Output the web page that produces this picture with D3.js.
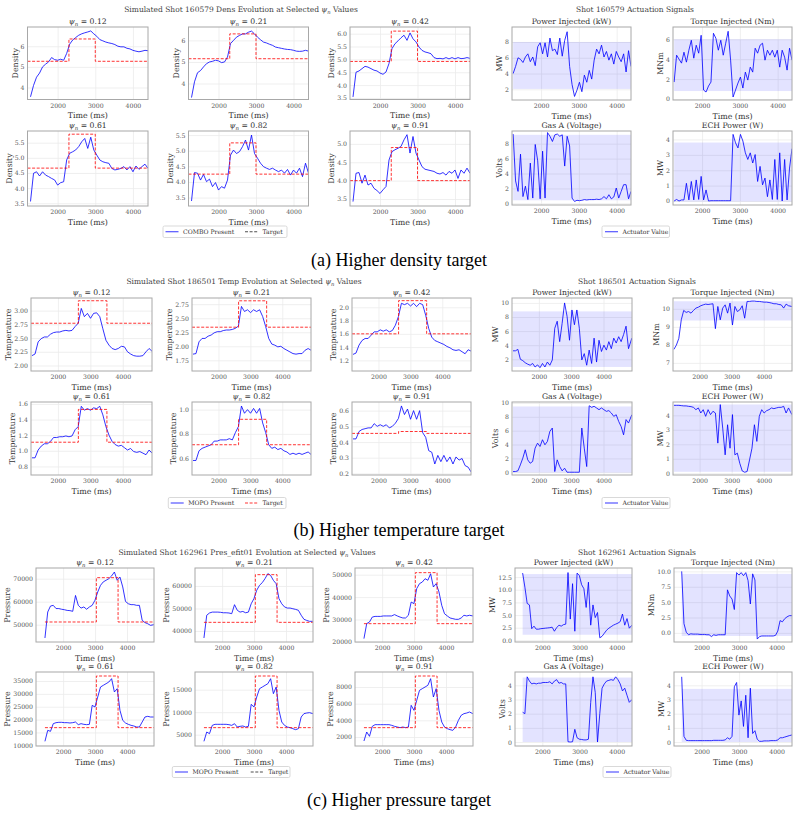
<!DOCTYPE html>
<html>
<head>
<meta charset="utf-8">
<script src="https://cdn.jsdelivr.net/npm/d3@7"></script>
<style>
  body { margin: 0; background: #fff; }
  svg { display: block; }
</style>
</head>
<body>
<div id="chart"></div>
<script>
// ---- data -------------------------------------------------------------
var psiVals = ["0.12", "0.21", "0.42", "0.61", "0.82", "0.91"];
var timeTicks = [2000, 3000, 4000];
var actTitles = ["Power Injected (kW)", "Torque Injected (Nm)", "Gas A (Voltage)", "ECH Power (W)"];
var actUnits = ["MW", "MNm", "Volts", "MW"];

// (a) density, shot 160579
var tA = [1280,1360,1440,1520,1600,1680,1760,1840,1920,2000,2080,2160,2240,2320,2400,2480,2560,2640,2720,2800,
          2880,2960,3040,3120,3200,3280,3360,3440,3520,3600,3680,3760,3840,3920,4000,4080,4160,4240,4320,4400];
var aDens = [
  [3.55,4.1,4.5,4.7,5.0,5.13,5.24,5.45,5.35,5.32,5.37,5.32,5.65,6.1,6.3,6.42,6.53,6.6,6.65,6.69,6.74,6.6,6.48,6.32,6.26,6.2,6.16,6.13,6.08,6.0,5.97,5.97,5.9,5.87,5.8,5.76,5.73,5.76,5.8,5.78],
  [3.35,4.08,4.5,4.6,4.77,4.92,5.0,5.03,5.08,5.05,4.97,5.0,5.23,5.85,6.0,6.15,6.23,6.3,6.3,6.38,6.43,6.3,6.15,6.03,5.92,5.88,5.82,5.77,5.69,5.66,5.63,5.6,5.58,5.57,5.54,5.5,5.49,5.5,5.54,5.5],
  [3.54,4.5,4.55,4.64,4.73,4.7,4.64,4.58,4.55,4.47,4.42,4.51,4.84,5.42,5.61,5.72,5.84,5.94,5.74,6.03,5.8,5.68,5.48,5.35,5.29,5.26,5.22,5.07,5.03,5.04,5.02,5.07,5.02,5.07,5.02,5.07,5.03,5.04,5.07,5.04],
  [3.56,4.49,4.54,4.4,4.54,4.43,4.38,4.32,4.27,4.1,4.18,4.21,4.93,5.15,5.2,5.26,5.37,5.53,5.64,5.31,5.68,5.26,5.09,4.93,4.87,4.84,4.82,4.65,4.6,4.62,4.65,4.71,4.6,4.71,4.54,4.73,4.62,4.71,4.79,4.65],
  [3.39,4.3,4.28,4.06,4.24,4.01,4.09,3.85,3.98,3.74,3.85,3.8,4.06,4.86,5.02,4.91,4.97,5.13,5.34,5.02,5.5,4.91,4.76,4.6,4.49,4.44,4.4,4.44,4.38,4.33,4.38,4.28,4.4,4.22,4.38,4.28,4.44,4.17,4.6,4.28],
  [3.43,4.2,4.22,3.93,4.15,3.88,3.93,3.79,3.73,3.65,3.75,3.84,4.56,4.79,4.84,4.88,4.93,5.11,5.25,4.75,5.2,4.75,4.56,4.38,4.31,4.29,4.27,4.25,4.2,4.18,4.22,4.15,4.25,4.2,4.29,4.06,4.29,4.2,4.34,4.2]
];
var aTargetLow = [5.27, 5.15, 4.92, 4.66, 4.25, 4.0];
var aTargetHigh = [6.35, 6.3, 6.1, 5.78, 5.25, 4.9];
var aTargetTimes = [1200, 2300, 3000, 4400];
var aYDomains = [[3.42,6.93],[3.26,6.62],[3.44,6.26],[3.41,5.885],[3.23,5.63],[3.31,5.35]];
var aYTicks = [[4,5,6],[4,5,6],[3.5,4,4.5,5,5.5,6],[3.5,4,4.5,5,5.5],[3.5,4,4.5,5,5.5],[3.5,4,4.5,5]];
var aYFmts = ["d", "d", ".1f", ".1f", ".1f", ".1f"];

var tAAct = [1260,1325,1390,1455,1520,1585,1650,1715,1780,1845,1910,1975,2040,2105,2170,2235,2300,2365,2430,2495,2560,2625,2690,2755,2820,
             2885,2950,3015,3080,3145,3210,3275,3340,3405,3470,3535,3600,3665,3730,3795,3860,3925,3990,4055,4120,4185,4250,4315,4380];
var aPower = [4.0,4.9,6.0,5.8,5.4,6.1,6.5,5.5,6.1,5.0,7.4,7.9,6.5,7.9,6.1,8.5,6.9,7.1,6.4,8.5,6.2,8.2,9.3,4.9,2.6,1.1,1.9,2.9,1.7,3.8,2.9,4.4,3.3,5.7,7.1,6.5,7.6,6.1,6.8,5.7,6.5,5.2,6.8,6.1,5.5,6.5,4.2,6.9,4.9];
var aTorque = [1.7,4.4,4.0,3.6,4.7,3.7,4.9,5.9,4.1,5.4,4.6,6.4,0.9,0.7,1.3,1.7,6.6,6.1,4.9,5.9,4.4,5.6,6.8,3.9,0.2,0.9,1.6,2.2,1.1,2.7,1.9,3.2,2.7,5.1,4.6,5.4,5.6,3.9,4.9,4.4,4.9,4.2,4.9,3.2,4.9,4.2,2.9,5.1,3.9];
var aGas = [9.3,3.0,1.6,6.6,0.9,2.3,0.5,5.4,0.7,7.9,5.7,0.6,7.0,0.7,9.5,9.0,8.3,9.2,9.3,9.0,9.2,5.0,9.0,7.7,0.7,0.25,0.4,0.35,0.4,0.5,0.45,0.5,0.5,0.5,0.55,0.5,0.6,0.9,0.6,1.15,0.6,0.85,2.05,0.7,1.6,2.5,2.5,0.6,1.6];
var aEch = [0.0,0.1,0.0,0.07,0.07,1.15,0.07,1.27,0.07,1.37,0.1,1.6,0.07,0.72,0.0,0.02,0.02,0.02,0.02,0.02,0.02,0.02,0.02,0.02,4.33,3.78,3.45,4.33,3.9,3.13,2.7,3.13,2.47,3.02,1.27,2.25,1.05,1.49,0.28,1.37,0.1,2.7,0.1,3.13,0.0,2.7,0.07,2.14,3.4];
var aActYDomains = [[0.65,9.9],[-0.1,7.23],[-0.23,9.71],[-0.26,4.55]];
var aActYTicks = [[2,4,6,8],[0,2,4,6],[0,2,4,6,8],[0,1,2,3,4]];
var aActBands = [[2.05,8.0],[0.8,6.0],[0.4,9.2],[-0.03,3.8]];

// (b) temperature, shot 186501
var tB = [1200,1295,1390,1485,1580,1675,1770,1865,1960,2055,2150,2245,2340,2435,2530,2625,2720,2815,2910,3005,
          3100,3195,3290,3385,3480,3575,3670,3765,3860,3955,4050,4145,4240,4335,4430,4525,4620,4715,4810,4900];
var bTemp = [
  [2.18,2.21,2.43,2.49,2.52,2.52,2.57,2.6,2.61,2.61,2.63,2.64,2.63,2.64,2.71,2.77,3.04,2.89,2.95,2.86,2.95,2.96,2.89,2.67,2.46,2.37,2.31,2.29,2.31,2.35,2.34,2.25,2.21,2.18,2.17,2.17,2.18,2.25,2.31,2.26],
  [1.86,1.87,2.08,2.14,2.14,2.18,2.2,2.24,2.26,2.26,2.28,2.29,2.29,2.3,2.32,2.36,2.71,2.62,2.65,2.6,2.65,2.62,2.65,2.53,2.35,2.14,2.04,2.02,1.99,2.0,1.96,1.93,1.9,1.87,1.86,1.87,1.87,1.93,1.96,1.93],
  [1.29,1.31,1.43,1.5,1.53,1.53,1.58,1.63,1.63,1.66,1.64,1.66,1.63,1.65,1.73,1.86,2.06,2.04,2.06,2.02,2.06,2.01,2.06,2.04,1.88,1.68,1.55,1.5,1.48,1.46,1.44,1.41,1.39,1.36,1.35,1.36,1.33,1.3,1.36,1.34],
  [0.91,0.91,1.01,1.06,1.09,1.09,1.12,1.17,1.17,1.18,1.18,1.19,1.18,1.19,1.27,1.31,1.57,1.52,1.54,1.52,1.55,1.54,1.57,1.46,1.31,1.2,1.12,1.08,1.06,1.07,1.04,1.01,1.03,0.99,0.98,0.99,0.97,0.95,1.01,0.97],
  [0.58,0.58,0.66,0.68,0.69,0.7,0.71,0.74,0.74,0.75,0.75,0.75,0.76,0.75,0.81,0.86,1.03,0.97,1.0,0.97,1.01,0.97,1.01,0.89,0.81,0.71,0.68,0.69,0.67,0.68,0.66,0.65,0.63,0.64,0.63,0.64,0.63,0.64,0.65,0.63],
  [0.42,0.42,0.467,0.48,0.485,0.49,0.49,0.517,0.5,0.51,0.5,0.51,0.49,0.5,0.52,0.55,0.63,0.575,0.61,0.545,0.6,0.545,0.6,0.46,0.43,0.345,0.335,0.26,0.315,0.275,0.315,0.275,0.305,0.26,0.305,0.285,0.295,0.25,0.24,0.21]
];
var bTargetLow = [2.77, 2.34, 1.6, 1.11, 0.71, 0.455];
var bTargetHigh = [3.18, 2.81, 2.1, 1.53, 0.92, 0.467];
var bTargetTimes = [1170, 2630, 3510, 4900];
var bYDomains = [[1.9,3.23],[1.56,2.86],[1.04,2.14],[0.69,1.625],[0.46,1.063],[0.19,0.655]];
var bYTicks = [[2,2.25,2.5,2.75,3],[1.75,2,2.25,2.5,2.75],[1.2,1.4,1.6,1.8,2.0],[0.8,1.0,1.2,1.4,1.6],[0.6,0.8,1.0],[0.2,0.3,0.4,0.5,0.6]];
var bYFmts = [".2f", ".2f", ".1f", ".1f", ".1f", ".1f"];

var tBAct = [1200,1276,1352,1428,1504,1580,1656,1732,1808,1884,1960,2036,2112,2188,2264,2340,2416,2492,2568,2644,2720,2796,2872,2948,3024,
             3100,3176,3252,3328,3404,3480,3556,3632,3708,3784,3860,3936,4012,4088,4164,4240,4316,4392,4468,4544,4620,4696,4772,4875];
var bPower = [3.2,3.2,3.4,2.0,1.8,1.5,1.3,1.15,1.4,0.9,1.2,0.8,1.4,0.9,1.6,1.15,1.9,6.4,7.4,4.5,7.1,10.0,8.1,4.7,9.0,6.9,9.0,6.4,1.9,2.8,1.15,3.3,1.4,5.0,1.6,4.7,3.1,4.0,3.3,4.5,3.5,5.0,4.3,5.2,4.5,5.5,6.7,3.5,5.0];
var bTorque = [7.75,7.99,8.36,9.39,9.91,9.8,9.85,9.76,9.91,10.04,10.09,10.17,10.22,10.26,10.24,10.26,10.28,8.9,10.13,9.39,10.04,10.22,9.76,10.32,9.1,10.13,9.85,9.94,10.17,9.48,10.41,10.41,10.43,10.43,10.41,10.41,10.39,10.37,10.37,10.35,10.32,10.28,10.28,10.24,10.22,10.04,10.26,10.17,10.13];
var bGas = [0.1,0.1,0.2,1.06,2.03,3.24,1.79,1.3,1.55,3.48,4.2,3.72,4.69,3.96,4.44,5.89,6.38,0.1,1.79,0.82,0.2,0.58,0.0,0.0,0.0,0.0,0.0,0.0,6.38,3.48,0.82,9.6,9.37,9.52,9.28,9.03,9.28,9.03,8.79,8.9,8.55,8.07,8.3,7.34,6.6,5.4,7.6,7.1,8.3];
var bEch = [4.69,4.69,4.69,4.67,4.65,4.65,4.62,4.6,4.55,4.39,4.51,4.16,4.39,3.93,4.39,4.05,4.28,4.16,2.08,4.74,3.12,1.27,3.35,1.73,4.05,1.27,1.39,0.69,0.16,0.07,0.12,0.92,1.73,3.35,2.2,3.93,4.39,4.16,4.32,4.39,4.51,4.46,4.51,4.55,4.55,4.62,4.16,4.51,4.05];
var bActYDomains = [[0.33,10.7],[6.55,10.6],[-0.4,10.14],[-0.12,4.92]];
var bActYTicks = [[2,4,6,8,10],[7,8,9,10],[0,2,4,6,8,10],[0,1,2,3,4]];
var bActBands = [[0.9,8.8],[9.35,10.42],[-0.05,9.5],[0.1,4.75]];

// (c) pressure, shot 162961
var tC = [1430,1517,1604,1691,1778,1865,1952,2039,2126,2213,2300,2387,2474,2561,2648,2735,2822,2909,2996,3083,
          3170,3257,3344,3431,3518,3605,3692,3779,3866,3953,4040,4127,4214,4301,4388,4475,4562,4649,4736,4840];
var cPres = [
  [44200,55500,58100,58400,57000,57000,56700,56500,56200,56100,55800,62700,58400,57200,57700,56700,57700,58400,60600,64200,67100,68600,69300,70000,71200,72900,69300,70700,66400,60100,59100,58700,58700,58400,58400,51900,50900,50400,49700,50000],
  [36900,47000,48000,48400,48400,48400,48300,48100,48100,48000,47700,51700,49200,48400,48700,48100,48400,52100,54400,58100,60300,61500,63300,65500,64700,62500,61000,54400,52100,50700,50200,50200,49900,49600,49200,47000,45200,44700,44300,44300],
  [21500,28200,28900,31100,31400,31400,31400,31600,31600,31600,31600,32200,31600,31100,30700,30700,31900,37800,37100,43800,46000,46700,48200,47500,50400,44500,46000,42300,36300,32600,31600,30700,30400,30100,30100,30700,31900,31600,31900,31600],
  [11550,15830,15440,18420,18810,18940,18940,18810,18810,18680,18810,19070,18030,18420,18160,18030,18160,25540,24900,28780,32670,33320,33960,34610,35910,30730,32020,23600,19710,18680,18160,17770,17510,17120,17120,19070,21010,21270,21010,21010],
  [3520,5590,5220,7070,7300,7300,7300,7300,7300,7220,7070,7440,6700,6850,6930,6700,6850,11740,11150,13370,15220,15590,15960,16330,17440,14110,15590,10410,7810,7070,6700,6560,6330,6110,6330,8930,9670,9810,9890,9670],
  [1520,2600,2080,3280,3480,3480,3480,3480,3480,3480,3400,3280,3200,3120,3200,3120,3200,5800,5200,6400,7600,7800,8000,8200,9000,6800,7800,5200,3800,3200,3000,2880,2800,3200,4000,4600,4800,4880,5000,4800]
];
var cTargetLow = [51160, 43850, 28160, 16870, 6560, 3120];
var cTargetHigh = [70430, 65040, 50890, 36940, 18040, 9320];
var cTargetTimes = [1430, 3040, 3720, 4840];
var cYDomains = [[42460,74640],[35110,68000],[19990,52970],[9740,38500],[2480,18930],[920,9800]];
var cYTicks = [[50000,60000,70000],[40000,50000,60000],[20000,30000,40000,50000],[10000,15000,20000,25000,30000,35000],[5000,10000,15000],[2000,4000,6000,8000]];
var cYFmts = ["d", "d", "d", "d", "d", "d"];

var tCAct = [1470,1531,1592,1653,1714,1775,1836,1897,1958,2019,2080,2141,2202,2263,2324,2385,2446,2507,2568,2629,2690,2751,2812,2873,2934,
             2995,3056,3117,3178,3239,3300,3361,3422,3483,3544,3605,3666,3727,3788,3849,3910,3971,4032,4093,4154,4215,4276,4337,4410];
var cPower = [13.3,10.5,7.3,7.0,2.3,2.8,2.2,2.2,2.3,2.35,2.4,2.45,2.5,2.6,1.8,2.5,3.0,2.8,3.1,3.2,13.4,4.2,11.2,1.8,13.3,12.8,11.0,10.2,6.5,11.5,3.0,7.0,4.5,5.5,0.5,0.8,1.4,2.0,2.4,2.7,3.0,3.2,3.4,3.7,5.2,3.0,4.3,2.4,3.0];
var cTorque = [10.0,1.5,0.1,-0.3,-0.15,-0.2,-0.2,-0.2,-0.25,-0.25,-0.25,-0.3,-0.3,-0.6,-0.3,-0.4,-0.3,-0.3,-0.3,-0.3,7.0,6.0,5.5,3.8,9.8,9.4,9.8,9.3,9.8,8.5,4.7,9.6,8.6,-1.0,-0.6,-0.5,-0.5,-0.5,-0.5,-0.5,-0.5,-0.4,0.3,2.0,1.8,2.3,2.6,2.8,2.8];
var cGas = [2.1,2.0,4.6,4.3,4.1,4.15,4.1,4.15,4.15,4.2,4.2,4.2,4.25,4.1,4.3,4.4,4.15,4.2,4.1,4.1,0.02,0.0,0.02,0.9,0.3,0.2,0.18,0.15,0.15,0.2,2.8,4.6,3.5,0.0,2.0,3.8,4.1,4.3,4.35,4.4,4.35,4.6,4.4,4.1,3.6,3.8,3.3,2.8,3.0];
var cEch = [4.6,0.4,0.12,0.1,0.1,0.1,0.1,0.1,0.1,0.1,0.1,0.1,0.1,0.1,0.12,0.12,0.12,0.12,0.12,0.15,0.3,0.2,0.4,3.9,4.2,1.9,2.9,1.1,3.3,0.3,3.8,0.6,0.8,0.2,0.05,0.05,0.08,0.08,0.08,0.1,0.1,0.1,0.15,0.3,0.3,0.35,0.4,0.45,0.5];
var cActYDomains = [[-0.33,14.3],[-1.48,10.55],[-0.28,4.94],[-0.28,4.94]];
var cActYTicks = [[0,2.5,5,7.5,10,12.5],[0,2.5,5,7.5,10],[0,1,2,3,4],[0,1,2,3,4]];
var cActYFmts = [".1f", ".1f", "d", "d"];
var cActBands = [[1.1,13.1],[-0.5,9.6],[0.0,4.55],[0.0,3.75]];

// ---- drawing ----------------------------------------------------------
var W = 798, H = 816;
var SERIF = "DejaVu Serif";
var BLUE = "#0000ff", RED = "#ff0000";
var clipCount = 0;

var svg = d3.select("#chart").append("svg")
    .attr("width", W).attr("height", H)
    .attr("font-family", SERIF);
svg.append("rect").attr("width", W).attr("height", H).attr("fill", "#fff");

function psiLabel(sel, before, after, fs) {
    if (before) sel.append("tspan").text(before);
    sel.append("tspan").attr("font-style", "italic").text("\u03c8");
    sel.append("tspan").attr("font-style", "italic").attr("font-size", fs * 0.7).attr("dy", fs * 0.25).text("n");
    sel.append("tspan").attr("dy", -fs * 0.25).text(after);
}

function panel(o) {
    var x0 = o.box[0], x1 = o.box[1], y0 = o.box[2], y1 = o.box[3];
    var w = x1 - x0, h = y1 - y0;
    var x = d3.scaleLinear().domain(o.xDomain).range([x0, x1]);
    var y = d3.scaleLinear().domain(o.yDomain).range([y1, y0]);
    var g = svg.append("g");

    g.append("rect").attr("x", x0).attr("y", y0).attr("width", w).attr("height", h).attr("fill", "#fff");

    var gx = g.append("g").attr("transform", "translate(0," + y1 + ")")
        .call(d3.axisBottom(x).tickValues(timeTicks).tickSize(-h).tickFormat(""));
    var gy = g.append("g").attr("transform", "translate(" + x0 + ",0)")
        .call(d3.axisLeft(y).tickValues(o.yTicks).tickSize(-w).tickFormat(""));
    [gx, gy].forEach(function(a) {
        a.select(".domain").remove();
        a.selectAll("line").attr("stroke", "#ebebeb").attr("stroke-width", 0.8);
    });

    var id = "clip" + (clipCount++);
    g.append("clipPath").attr("id", id).append("rect")
        .attr("x", x0).attr("y", y0).attr("width", w).attr("height", h);
    var plot = g.append("g").attr("clip-path", "url(#" + id + ")");

    if (o.band) {
        var ext = d3.extent(o.t);
        plot.append("rect")
            .attr("x", x(ext[0])).attr("width", x(ext[1]) - x(ext[0]))
            .attr("y", y(o.band[1])).attr("height", y(o.band[0]) - y(o.band[1]))
            .attr("fill", BLUE).attr("fill-opacity", 0.11);
    }

    var line = d3.line()
        .x(function(d) { return x(d[0]); })
        .y(function(d) { return y(d[1]); });
    plot.append("path").datum(d3.zip(o.t, o.v))
        .attr("d", line)
        .attr("fill", "none").attr("stroke", BLUE).attr("stroke-opacity", 0.8)
        .attr("stroke-width", 1).attr("stroke-linejoin", "round");

    if (o.target) {
        var step = d3.line()
            .x(function(d) { return x(d[0]); })
            .y(function(d) { return y(d[1]); })
            .curve(d3.curveStepAfter);
        plot.append("path").datum(o.target)
            .attr("d", step)
            .attr("fill", "none").attr("stroke", RED).attr("stroke-opacity", 0.8)
            .attr("stroke-width", 1).attr("stroke-dasharray", "3,1.6");
    }

    g.append("rect").attr("x", x0).attr("y", y0).attr("width", w).attr("height", h)
        .attr("fill", "none").attr("stroke", "#a8a8a8").attr("stroke-width", 1);

    var tx = g.append("g").attr("transform", "translate(0," + y1 + ")")
        .call(d3.axisBottom(x).tickValues(timeTicks).tickSize(0).tickPadding(4).tickFormat(d3.format("d")));
    var ty = g.append("g").attr("transform", "translate(" + x0 + ",0)")
        .call(d3.axisLeft(y).tickValues(o.yTicks).tickSize(0).tickPadding(3).tickFormat(d3.format(o.yFmt)));
    [tx, ty].forEach(function(a) {
        a.select(".domain").remove();
        a.attr("font-family", SERIF).attr("font-size", 6.2);
        a.selectAll("text").attr("fill", "#555");
    });

    g.append("text").attr("x", (x0 + x1) / 2).attr("y", y1 + 18.5)
        .attr("text-anchor", "middle").attr("font-size", 7.9).attr("fill", "#333")
        .text("Time (ms)");

    var maxW = d3.max(ty.selectAll("text").nodes(), function(n) { return n.getBBox().width; });
    g.append("text")
        .attr("transform", "translate(" + (x0 - 3 - maxW - 3) + "," + ((y0 + y1) / 2) + ") rotate(-90)")
        .attr("text-anchor", "middle").attr("font-size", 7.9).attr("fill", "#333")
        .text(o.ylabel);

    var tt = g.append("text").attr("x", (x0 + x1) / 2).attr("y", y0 - 3)
        .attr("text-anchor", "middle").attr("font-size", 7.7).attr("fill", "#333");
    if (o.psi) psiLabel(tt, "", " = " + o.psi, 7.7);
    else tt.text(o.title);
}

function leftGrid(c) {
    psiVals.forEach(function(p, i) {
        var col = i % 3, row = Math.floor(i / 3);
        var tt = c.targetTimes;
        panel({
            box: [c.xs[col][0], c.xs[col][1], c.ys[row][0], c.ys[row][1]],
            xDomain: c.xDomain, yDomain: c.yDomains[i], yTicks: c.yTicks[i], yFmt: c.yFmts[i],
            psi: p, ylabel: c.ylabel, t: c.times, v: c.values[i],
            target: [[tt[0], c.low[i]], [tt[1], c.high[i]], [tt[2], c.low[i]], [tt[3], c.low[i]]]
        });
    });
    var st = svg.append("text").attr("x", c.supX).attr("y", c.supY)
        .attr("text-anchor", "middle").attr("font-size", 7.5).attr("fill", "#444");
    psiLabel(st, c.supBefore, " Values", 7.5);
}

function actGrid(c) {
    actTitles.forEach(function(title, i) {
        var col = i % 2, row = Math.floor(i / 2);
        panel({
            box: [c.xs[col][0], c.xs[col][1], c.ys[row][0], c.ys[row][1]],
            xDomain: c.xDomain, yDomain: c.yDomains[i], yTicks: c.yTicks[i], yFmt: c.yFmts[i],
            title: title, ylabel: actUnits[i], t: c.times, v: c.values[i], band: c.bands[i]
        });
    });
    svg.append("text").attr("x", c.supX).attr("y", c.supY)
        .attr("text-anchor", "middle").attr("font-size", 7.5).attr("fill", "#444")
        .text(c.sup);
}

function legend(box, items) {
    svg.append("rect").attr("x", box[0]).attr("y", box[1]).attr("width", box[2]).attr("height", box[3])
        .attr("rx", 1.5).attr("fill", "#fff").attr("stroke", "#cfcfcf").attr("stroke-width", 0.8);
    var cy = box[1] + box[3] / 2;
    items.forEach(function(it) {
        svg.append("line").attr("x1", it.sx).attr("x2", it.sx + 13).attr("y1", cy).attr("y2", cy)
            .attr("stroke", it.color).attr("stroke-opacity", 0.8).attr("stroke-width", 1)
            .attr("stroke-dasharray", it.dash ? "3,1.6" : null);
        svg.append("text").attr("x", it.sx + 17.5).attr("y", cy + 2.2)
            .attr("font-size", 6.1).attr("fill", "#333").text(it.label);
    });
}

function caption(y, txt) {
    svg.append("text").attr("x", 399).attr("y", y).attr("text-anchor", "middle")
        .attr("font-family", "Liberation Serif")
        .attr("font-size", 18).attr("fill", "#000").text(txt);
}

// (a)
leftGrid({
    xs: [[27.5, 148], [188.5, 308.5], [350, 470]], ys: [[27, 99.5], [131, 206]],
    xDomain: [1200, 4400], times: tA, values: aDens, ylabel: "Density",
    yDomains: aYDomains, yTicks: aYTicks, yFmts: aYFmts,
    low: aTargetLow, high: aTargetHigh, targetTimes: aTargetTimes,
    supX: 241, supY: 12, supBefore: "Simulated Shot 160579 Dens Evolution at Selected "
});
actGrid({
    xs: [[512, 631], [673, 792]], ys: [[27, 100], [131, 205]],
    xDomain: [1230, 4380], times: tAAct, values: [aPower, aTorque, aGas, aEch],
    yDomains: aActYDomains, yTicks: aActYTicks, yFmts: ["d", "d", "d", "d"], bands: aActBands,
    supX: 635, supY: 12, sup: "Shot 160579 Actuation Signals"
});
legend([163, 226, 124, 11.5], [
    { sx: 165.5, label: "COMBO Present", color: BLUE },
    { sx: 245, label: "Target", color: "#222", dash: true }
]);
legend([602, 226, 67.5, 11.5], [{ sx: 605, label: "Actuator Value", color: BLUE }]);
caption(266, "(a) Higher density target");

// (b)
leftGrid({
    xs: [[31, 152], [192, 311], [352, 471]], ys: [[298, 371], [402, 475]],
    xDomain: [1170, 4900], times: tB, values: bTemp, ylabel: "Temperature",
    yDomains: bYDomains, yTicks: bYTicks, yFmts: bYFmts,
    low: bTargetLow, high: bTargetHigh, targetTimes: bTargetTimes,
    supX: 244, supY: 284, supBefore: "Simulated Shot 186501 Temp Evolution at Selected "
});
actGrid({
    xs: [[512, 632], [673, 792]], ys: [[298, 371], [402, 475]],
    xDomain: [1170, 4880], times: tBAct, values: [bPower, bTorque, bGas, bEch],
    yDomains: bActYDomains, yTicks: bActYTicks, yFmts: ["d", "d", "d", "d"], bands: bActBands,
    supX: 637, supY: 284, sup: "Shot 186501 Actuation Signals"
});
legend([168.3, 497.5, 117.7, 11], [
    { sx: 170.7, label: "MOPO Present", color: BLUE },
    { sx: 245, label: "Target", color: RED, dash: true }
]);
legend([602, 497.5, 68, 11], [{ sx: 605, label: "Actuator Value", color: BLUE }]);
caption(536, "(b) Higher temperature target");

// (c)
leftGrid({
    xs: [[36, 154], [195, 313], [355, 473]], ys: [[568, 642], [672, 746]],
    xDomain: [1150, 4845], times: tC, values: cPres, ylabel: "Pressure",
    yDomains: cYDomains, yTicks: cYTicks, yFmts: cYFmts,
    low: cTargetLow, high: cTargetHigh, targetTimes: cTargetTimes,
    supX: 247, supY: 555, supBefore: "Simulated Shot 162961 Pres_efit01 Evolution at Selected "
});
actGrid({
    xs: [[515, 632], [674, 792]], ys: [[568, 642], [672, 746]],
    xDomain: [1265, 4410], times: tCAct, values: [cPower, cTorque, cGas, cEch],
    yDomains: cActYDomains, yTicks: cActYTicks, yFmts: cActYFmts, bands: cActBands,
    supX: 637, supY: 555, sup: "Shot 162961 Actuation Signals"
});
legend([172.3, 766.5, 117.7, 11], [
    { sx: 175, label: "MOPO Present", color: BLUE },
    { sx: 250.7, label: "Target", color: "#222", dash: true }
]);
legend([603, 766.5, 68, 11], [{ sx: 606, label: "Actuator Value", color: BLUE }]);
caption(806, "(c) Higher pressure target");
</script>
</body>
</html>
